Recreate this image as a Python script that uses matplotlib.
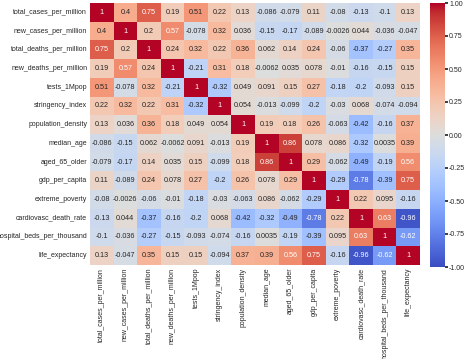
import matplotlib
matplotlib.use("Agg")
import matplotlib.pyplot as plt
import seaborn as sns
import numpy as np
import pandas as pd

labels = ["total_cases_per_million", "new_cases_per_million", "total_deaths_per_million",
          "new_deaths_per_million", "tests_1Mpop", "stringency_index", "population_density",
          "median_age", "aged_65_older", "gdp_per_capita", "extreme_poverty",
          "cardiovasc_death_rate", "hospital_beds_per_thousand", "life_expectancy"]

corr_rows = [
    [1, 0.4, 0.75, 0.19, 0.51, 0.22, 0.13, -0.086, -0.079, 0.11, -0.08, -0.13, -0.1, 0.13],
    [0.4, 1, 0.2, 0.57, -0.078, 0.32, 0.036, -0.15, -0.17, -0.089, -0.0026, 0.044, -0.036, -0.047],
    [0.75, 0.2, 1, 0.24, 0.32, 0.22, 0.36, 0.062, 0.14, 0.24, -0.06, -0.37, -0.27, 0.35],
    [0.19, 0.57, 0.24, 1, -0.21, 0.31, 0.18, -0.0062, 0.035, 0.078, -0.01, -0.16, -0.15, 0.15],
    [0.51, -0.078, 0.32, -0.21, 1, -0.32, 0.049, 0.091, 0.15, 0.27, -0.18, -0.2, -0.093, 0.15],
    [0.22, 0.32, 0.22, 0.31, -0.32, 1, 0.054, -0.013, -0.099, -0.2, -0.03, 0.068, -0.074, -0.094],
    [0.13, 0.036, 0.36, 0.18, 0.049, 0.054, 1, 0.19, 0.18, 0.26, -0.063, -0.42, -0.16, 0.37],
    [-0.086, -0.15, 0.062, -0.0062, 0.091, -0.013, 0.19, 1, 0.86, 0.078, 0.086, -0.32, 0.0035, 0.39],
    [-0.079, -0.17, 0.14, 0.035, 0.15, -0.099, 0.18, 0.86, 1, 0.29, -0.062, -0.49, -0.19, 0.56],
    [0.11, -0.089, 0.24, 0.078, 0.27, -0.2, 0.26, 0.078, 0.29, 1, -0.29, -0.78, -0.39, 0.75],
    [-0.08, -0.0026, -0.06, -0.01, -0.18, -0.03, -0.063, 0.086, -0.062, -0.29, 1, 0.22, 0.095, -0.16],
    [-0.13, 0.044, -0.37, -0.16, -0.2, 0.068, -0.42, -0.32, -0.49, -0.78, 0.22, 1, 0.63, -0.96],
    [-0.1, -0.036, -0.27, -0.15, -0.093, -0.074, -0.16, 0.0035, -0.19, -0.39, 0.095, 0.63, 1, -0.62],
    [0.13, -0.047, 0.35, 0.15, 0.15, -0.094, 0.37, 0.39, 0.56, 0.75, -0.16, -0.96, -0.62, 1],
]

corr = pd.DataFrame(np.array(corr_rows), index=labels, columns=labels)

sns.set_theme(style="white")
plt.rcParams["font.family"] = ["Liberation Sans", "DejaVu Sans"]

fig = plt.figure(figsize=(4.74, 3.59), dpi=100)
W, H = 474, 359
ax = fig.add_axes([90 / W, 1 - 265 / H, 330 / W, 262 / H])
cax = fig.add_axes([430 / W, 1 - 267 / H, 15 / W, 264 / H])

sns.heatmap(corr, annot=True, cmap="coolwarm", vmin=-1, vmax=1, ax=ax, cbar_ax=cax,
            annot_kws={"fontsize": 5.2})

ax.tick_params(axis="both", labelsize=5, length=0, pad=2)
ax.set_xticklabels(labels, rotation=90)
ax.set_yticklabels(labels, rotation=0)
cax.tick_params(labelsize=5, length=2, pad=1)
cax.set_yticks([-1, -0.75, -0.5, -0.25, 0, 0.25, 0.5, 0.75, 1])
cax.set_yticklabels(["-1.00", "-0.75", "-0.50", "-0.25", "0.00", "0.25", "0.50", "0.75", "1.00"])

fig.savefig("out.png", dpi=100)
